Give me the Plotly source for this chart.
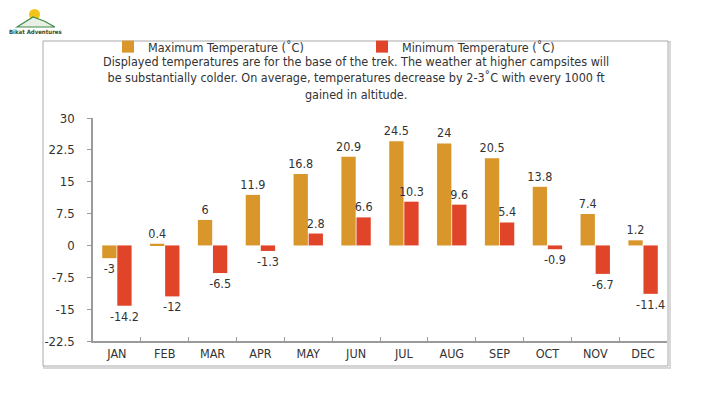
import plotly.graph_objects as go

months = ["JAN", "FEB", "MAR", "APR", "MAY", "JUN", "JUL", "AUG", "SEP", "OCT", "NOV", "DEC"]
max_temp = [-3, 0.4, 6, 11.9, 16.8, 20.9, 24.5, 24, 20.5, 13.8, 7.4, 1.2]
min_temp = [-14.2, -12, -6.5, -1.3, 2.8, 6.6, 10.3, 9.6, 5.4, -0.9, -6.7, -11.4]
y_ticks = [30, 22.5, 15, 7.5, 0, -7.5, -15, -22.5]
y_tick_text = ["30", "22.5", "15", "7.5", "0", "-7.5", "-15", "-22.5"]

W, H = 709, 399
OFF = 8  # page body margin in browser
# plot area in screen pixels
SL, SR, ST, SB = 93, 667, 118, 341
L, R, T, B = SL - OFF, SR - OFF, ST - OFF, SB - OFF
FONT = "DejaVu Sans Condensed, DejaVu Sans, sans-serif"
TXT = "#333333"


def px(x):
    return (x - SL) / (SR - SL)


def py(y):
    return (SB - y) / (SB - ST)


fig = go.Figure()
fig.add_trace(go.Bar(
    x=months, y=max_temp, name="Maximum Temperature (˚C)",
    marker=dict(color="#D8962B", line=dict(width=0)),
    text=[f"{v:g}" for v in max_temp], textposition="outside", constraintext="none",
    textfont=dict(size=12.5, color=TXT, family=FONT), cliponaxis=False,
))
fig.add_trace(go.Bar(
    x=months, y=min_temp, name="Minimum Temperature (˚C)",
    marker=dict(color="#E0452A", line=dict(width=0)),
    text=[f"{v:g}" for v in min_temp], textposition="outside", constraintext="none",
    textfont=dict(size=12.5, color=TXT, family=FONT), cliponaxis=False,
))

shapes = [
    dict(type="rect", xref="paper", yref="paper", x0=px(44), x1=px(670), y0=py(42), y1=py(368),
         line=dict(color="#d8d8d8", width=2), layer="below"),
    dict(type="rect", xref="paper", yref="paper", x0=px(43), x1=px(668), y0=py(41), y1=py(366),
         line=dict(color="#a8a8a8", width=1), fillcolor="white", layer="below"),
    dict(type="circle", xref="paper", yref="paper", x0=px(29), x1=px(40), y0=py(9), y1=py(20),
         fillcolor="#F2C418", line=dict(width=0)),
    dict(type="path", xref="paper", yref="paper",
         path=f"M {px(17)} {py(27)} L {px(33)} {py(17)} L {px(44)} {py(21)} L {px(55)} {py(27)} Z",
         fillcolor="#e8efe4", line=dict(color="#3f8a4a", width=1.2)),
]

annotations = [
    dict(xref="paper", yref="paper", x=px(356), y=py(78), xanchor="center", yanchor="middle",
         showarrow=False, align="center",
         text="Displayed temperatures are for the base of the trek. The weather at higher campsites will<br>"
              "be substantially colder. On average, temperatures decrease by 2-3˚C with every 1000 ft<br>"
              "gained in altitude.",
         font=dict(size=12.5, color=TXT, family=FONT)),
    dict(xref="paper", yref="paper", x=px(35), y=py(31), xanchor="center", yanchor="middle",
         showarrow=False, text="<b>Bikat Adventures</b>",
         font=dict(size=6, color="#2d4f2f", family=FONT)),
]

fig.update_layout(
    width=W, height=H, autosize=False,
    margin=dict(l=L, r=W - R, t=T, b=H - B, pad=0, autoexpand=False),
    paper_bgcolor="white", plot_bgcolor="white",
    barmode="group", bargap=0.37, bargroupgap=0.05,
    font=dict(family=FONT, color=TXT, size=12),
    showlegend=True,
    legend=dict(orientation="h", x=px(108), y=py(47), xanchor="left", yanchor="middle",
                font=dict(size=12.5, color=TXT, family=FONT), entrywidth=209, entrywidthmode="pixels",
                bgcolor="rgba(0,0,0,0)", itemwidth=30, traceorder="normal"),
    shapes=shapes, annotations=annotations,
)
fig.update_xaxes(
    type="category", showline=True, linecolor="#9a9a9a", linewidth=1.5,
    ticks="inside", ticklen=4, tickcolor="#9a9a9a", tickson="boundaries",
    tickfont=dict(size=12.5, color=TXT, family=FONT), showgrid=False, zeroline=False,
)
fig.update_yaxes(
    range=[-22.5, 30], tickvals=y_ticks, ticktext=y_tick_text,
    showline=True, linecolor="#9a9a9a", linewidth=1.5,
    ticks="outside", ticklen=4, tickcolor="#9a9a9a", ticklabelstandoff=10,
    tickfont=dict(size=13, color=TXT, family=FONT), showgrid=False, zeroline=False,
)

fig.write_html("out.html")
